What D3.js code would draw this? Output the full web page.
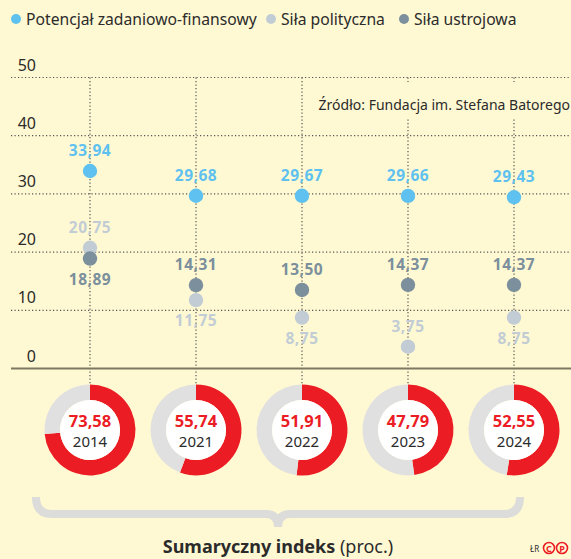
<!DOCTYPE html>
<html><head><meta charset="utf-8">
<script src="https://cdn.jsdelivr.net/npm/d3@7"></script>
<style>
html,body{margin:0;padding:0;background:#FFF9D3;}
svg{display:block;font-family:"Noto Sans",sans-serif;}
</style></head><body>
<svg id="chart" width="571" height="559"></svg>
<script>
const years = ["2014","2021","2022","2023","2024"];
const potencjal = [33.94, 29.68, 29.67, 29.66, 29.43];
const politycza = [20.75, 11.75, 8.75, 3.75, 8.75];
const ustrojowa = [18.89, 14.31, 13.50, 14.37, 14.37];
const sumaryczny = [73.58, 55.74, 51.91, 47.79, 52.55];
const yTicks = [0, 10, 20, 30, 40, 50];
const potencjalPos = ["above","above","above","above","above"];
const polityczaPos = ["above","below","below","above","below"];
const ustrojowaPos = ["below","above","above","above","above"];
const legendLabels = ["Potencjał zadaniowo-finansowy","Siła polityczna","Siła ustrojowa"];
const sourceText = "Źródło: Fundacja im. Stefana Batorego";

const C = {bg:"#FFF9D3", blue:"#5EC1EF", light:"#C2CCD5", dark:"#7B8F9C", red:"#EC1C24", ring:"#E0E0E0", grid:"#555", text:"#2b2b2b"};
const fmt = v => v.toFixed(2).replace(".", ",");

const svg = d3.select("#chart");
const x = d3.scalePoint().domain(years).range([90, 514]);
const y = d3.scaleLinear().domain([0, 50]).range([368.5, 77.5]);

// Gridlines
svg.append("g").selectAll("line").data(yTicks.filter(t=>t>0)).join("line")
  .attr("x1", 11).attr("x2", 571).attr("y1", d=>y(d)).attr("y2", d=>y(d))
  .attr("stroke", C.grid).attr("stroke-width", 1.2).attr("stroke-dasharray","1.2,2.3");
// Tick labels
svg.append("g").selectAll("text").data(yTicks).join("text")
  .attr("x", 36).attr("y", d => y(d) - 7)
  .attr("text-anchor","end").attr("font-size", 16).attr("fill", C.text).text(d => d);

// Donut geometry
const donutCY = 430, rOuter = 45.5, rInner = 30;

// vertical dotted lines
svg.append("g").selectAll("line").data(years).join("line")
  .attr("x1", d=>x(d)).attr("x2", d=>x(d)).attr("y1", y(50)).attr("y2", donutCY - rOuter)
  .attr("stroke", C.grid).attr("stroke-width", 1.2).attr("stroke-dasharray","1.2,2.3");

// baseline
svg.append("line").attr("x1", 11).attr("x2", 571).attr("y1", y(0)).attr("y2", y(0))
  .attr("stroke", "#7d7862").attr("stroke-width", 2);

// source text with background
svg.append("rect").attr("x", 309).attr("y", 82).attr("width", 262).attr("height", 36).attr("fill", C.bg);
svg.append("text").attr("x", 570).attr("y", 110).attr("text-anchor","end")
  .attr("font-size", 14).attr("fill", C.text).text(sourceText);

// Series
const series = [
  {vals: potencjal, pos: potencjalPos, color: C.blue},
  {vals: politycza, pos: polityczaPos, color: C.light},
  {vals: ustrojowa, pos: ustrojowaPos, color: C.dark}
];
series.forEach(s => {
  const g = svg.append("g");
  const data = years.map((yr,i) => ({yr, v: s.vals[i], p: s.pos[i]}));
  g.selectAll("circle").data(data).join("circle")
    .attr("cx", d=>x(d.yr)).attr("cy", d=>y(d.v)).attr("r", 7.2).attr("fill", s.color);
  g.selectAll("text").data(data).join("text")
    .attr("x", d=>x(d.yr)).attr("y", d=> y(d.v) + (d.p==="above" ? -15 : 26))
    .attr("text-anchor","middle").attr("font-size", 15.5).attr("font-weight", 700)
    .attr("letter-spacing", 0.5).attr("fill", s.color).text(d => fmt(d.v));
});

// Donuts
const arc = d3.arc().innerRadius(rInner).outerRadius(rOuter);
const pie = d3.pie().sort(null).value(d=>d);
years.forEach((yr,i) => {
  const g = svg.append("g").attr("transform", `translate(${x(yr)},${donutCY})`);
  const arcs = pie([sumaryczny[i], 100 - sumaryczny[i]]);
  g.selectAll("path").data(arcs).join("path").attr("d", arc)
    .attr("fill", (d,j) => j===0 ? C.red : C.ring);
  g.append("circle").attr("r", rInner).attr("fill", "#FFFFFF");
  g.append("text").attr("y", -3).attr("text-anchor","middle").attr("font-size", 16.5)
    .attr("font-weight", 700).attr("fill", C.red).text(fmt(sumaryczny[i]));
  g.append("text").attr("y", 17).attr("text-anchor","middle").attr("font-size", 15)
    .attr("fill", C.text).text(yr);
});

// Brace
const bx0 = 36, bx1 = 520, bm = (bx0+bx1)/2, by = 514;
svg.append("path")
  .attr("d", `M${bx0},497 Q${bx0},${by} ${bx0+16},${by} L${bm-12},${by} Q${bm},${by} ${bm},527 Q${bm},${by} ${bm+12},${by} L${bx1-16},${by} Q${bx1},${by} ${bx1},497`)
  .attr("fill","none").attr("stroke", "#DCDCDA").attr("stroke-width", 8);

// Bottom title
const t = svg.append("text").attr("x", bm).attr("y", 553).attr("text-anchor","middle")
  .attr("font-size", 18).attr("fill", C.text);
t.append("tspan").attr("font-weight", 700).text("Sumaryczny indeks");
t.append("tspan").text(" (proc.)");

// Credits
svg.append("text").attr("x", 530).attr("y", 552).attr("font-size", 8).attr("fill", C.text).text("ŁR");
[549, 562].forEach((cx,i) => {
  svg.append("circle").attr("cx", cx).attr("cy", 548).attr("r", 5.5).attr("fill","none")
    .attr("stroke", C.red).attr("stroke-width", 1.6);
  svg.append("text").attr("x", cx).attr("y", 551.5).attr("text-anchor","middle")
    .attr("font-size", 9).attr("font-weight", 700).attr("fill", C.red).text(i===0 ? "C" : "P");
});

// Legend
const legendColors = [C.blue, C.light, C.dark];
const legendX = [16, 271, 404];
legendLabels.forEach((lab,i) => {
  svg.append("circle").attr("cx", legendX[i]).attr("cy", 19).attr("r", 5).attr("fill", legendColors[i]);
  svg.append("text").attr("x", legendX[i] + 10).attr("y", 25).attr("font-size", 15.7)
    .attr("fill", C.text).text(lab);
});
</script>
</body></html>
